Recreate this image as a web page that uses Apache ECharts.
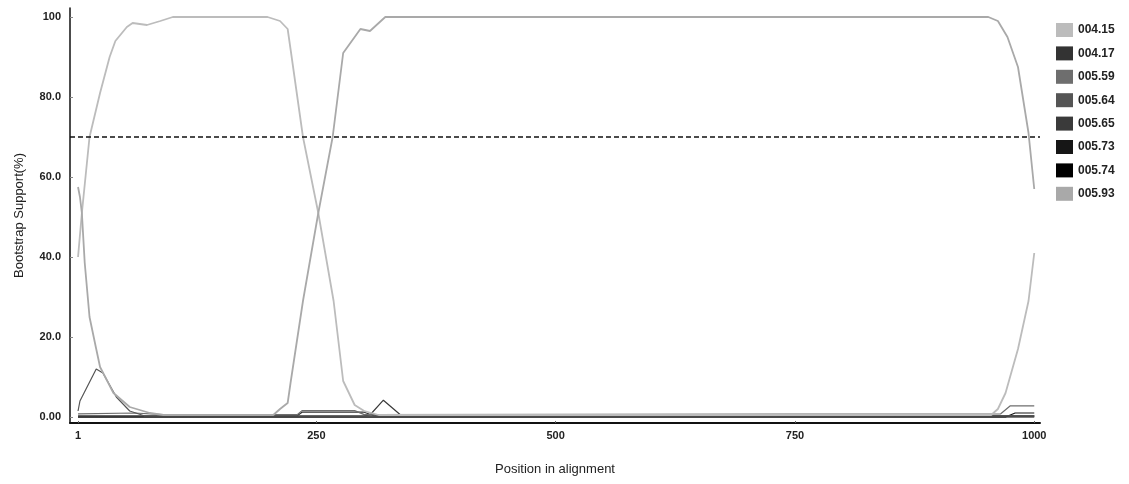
<!DOCTYPE html>
<html>
<head>
<meta charset="utf-8">
<script src="https://cdn.jsdelivr.net/npm/echarts@6/dist/echarts.min.js"></script>
<style>html,body{margin:0;padding:0;background:#fff}#c{width:1129px;height:484px}</style>
</head>
<body>
<div id="c"></div>
<script>
// ---- data ----
const seriesNames = ['004.15','004.17','005.59','005.64','005.65','005.73','005.74','005.93'];
const seriesColors = ['#bcbcbc','#333333','#6e6e6e','#555555','#3a3a3a','#161616','#000000','#a9a9a9'];
const xTickValues = [1, 250, 500, 750, 1000];
const yTickValues = [0, 20, 40, 60, 80, 100];
const yTickLabels = ['0.00', '20.0', '40.0', '60.0', '80.0', '100'];
const threshold = 70;

const s00415 = [[1,40],[5,51],[13,70],[24,81],[34,90],[40,94],[52,97.5],[58,98.5],[73,98],[87,99],[100,100],[199,100],[212,99],[220,97],[223,92],[236,70],[252,51],[268,29],[278,9],[290,3],[300,1.5],[315,0.5],[955,0.5],[962,2],[970,6],[983,17],[994,29],[1000,41]];
const s00417 = [[1,0.3],[230,0.3],[235,1.2],[300,1.2],[310,0.3],[1000,0.3]];
const s00559 = [[1,0.8],[60,1],[90,0.6],[230,0.6],[235,1.6],[290,1.6],[300,0.6],[965,0.8],[975,2.8],[1000,2.8]];
const s00564 = [[1,1.5],[3,4],[20,12],[27,11],[41,5],[55,1.5],[70,0.3],[1000,0.3]];
const s00565 = [[1,0],[300,0.3],[306,0.5],[320,4.2],[338,0.5],[1000,0.2]];
const s00573 = [[1,0],[970,0],[980,1],[1000,1]];
const s00574 = [[1,0],[1000,0]];
const s00593 = [[1,57.5],[3,55],[5,51],[8,38.5],[13,25],[20,17],[24,12.5],[38,6],[55,2.5],[76,1],[90,0.5],[205,0.5],[212,2],[220,3.5],[223,8.5],[236,29],[252,51],[267,70],[278,91],[296,97],[306,96.5],[322,100],[952,100],[962,99],[972,95],[983,87.5],[994,71],[1000,57]];
const seriesData = [s00415, s00417, s00559, s00564, s00565, s00573, s00574, s00593];

// ---- chart ----
const chart = echarts.init(document.getElementById('c'), null, {renderer: 'canvas'});
const font = 'Liberation Sans, Arial, sans-serif';
const order = [6,5,4,1,2,3,0,7];
const series = order.map(i => ({
  name: seriesNames[i],
  type: 'line',
  data: seriesData[i],
  showSymbol: false,
  symbol: 'none',
  color: seriesColors[i],
  lineStyle: {width: (i === 0 || i === 7) ? 1.8 : 1.2, color: seriesColors[i]},
  itemStyle: {color: seriesColors[i]},
  z: 2,
  animation: false
}));
series.push({
  name: 'threshold',
  type: 'line',
  data: [],
  silent: true,
  markLine: {
    symbol: 'none',
    silent: true,
    label: {show: false},
    lineStyle: {color: '#111', type: [5, 3], width: 1.5},
    data: [{yAxis: threshold}]
  }
});

chart.setOption({
  animation: false,
  backgroundColor: '#fff',
  grid: {left: 70, right: 89, top: 8, bottom: 61, containLabel: false},
  legend: {
    data: seriesNames,
    orient: 'vertical',
    left: 1051,
    top: 18,
    itemWidth: 17,
    itemHeight: 14,
    itemGap: 9.4,
    icon: 'rect',
    textStyle: {fontFamily: font, fontWeight: 'bold', fontSize: 12, color: '#222'},
    selectedMode: false
  },
  xAxis: {
    type: 'value',
    min: -7.4,
    max: 1006,
    name: 'Position in alignment',
    nameLocation: 'middle',
    nameGap: 40,
    nameTextStyle: {fontFamily: font, fontSize: 13, color: '#222'},
    axisLine: {show: true, onZero: false, lineStyle: {color: '#111', width: 2}},
    axisTick: {show: true, inside: true, length: 2, customValues: xTickValues, lineStyle: {color: '#666'}},
    axisLabel: {customValues: xTickValues, formatter: v => String(Math.round(v)), fontFamily: font, fontWeight: 'bold', fontSize: 11, color: '#222', margin: 7},
    splitLine: {show: false}
  },
  yAxis: {
    type: 'value',
    min: -1.5,
    max: 102.25,
    name: 'Bootstrap Support(%)',
    nameLocation: 'middle',
    nameGap: 44,
    nameRotate: 90,
    nameTextStyle: {fontFamily: font, fontSize: 13, color: '#222'},
    axisLine: {show: true, onZero: false, lineStyle: {color: '#111', width: 1.5}},
    axisTick: {show: true, inside: true, length: 3, customValues: yTickValues, lineStyle: {color: '#888'}},
    axisLabel: {
      customValues: yTickValues,
      formatter: v => yTickLabels[yTickValues.indexOf(Math.round(v))] ?? '',
      fontFamily: font, fontWeight: 'bold', fontSize: 11, color: '#222', margin: 9
    },
    splitLine: {show: false}
  },
  series: series
});
</script>
</body>
</html>
